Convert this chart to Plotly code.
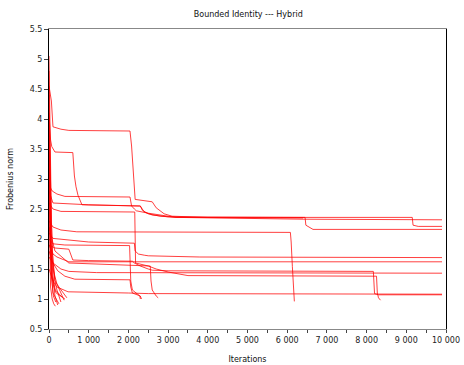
import plotly.graph_objects as go

# ---- data (iterations, Frobenius norm) ----
run01_x = [0, 60, 100, 300, 500, 2040, 2080, 2130, 2170, 2600, 2700, 2900, 3100, 4000, 9150, 9170, 9300, 9900]
run01_y = [4.55, 4.3, 3.87, 3.83, 3.81, 3.80, 3.55, 2.98, 2.66, 2.62, 2.52, 2.42, 2.38, 2.36, 2.36, 2.23, 2.21, 2.21]

run02_x = [0, 40, 70, 150, 600, 640, 680, 730, 830, 2300, 2400, 2600, 3000, 6450, 6470, 6650, 9900]
run02_y = [4.1, 3.65, 3.54, 3.45, 3.44, 3.05, 2.87, 2.73, 2.57, 2.55, 2.45, 2.40, 2.37, 2.36, 2.23, 2.16, 2.16]

run03_x = [0, 80, 200, 400, 2040, 2080, 2150, 2200, 2500, 2800, 3200, 6400, 9900]
run03_y = [2.9, 2.80, 2.75, 2.71, 2.70, 2.55, 2.50, 2.47, 2.43, 2.40, 2.36, 2.33, 2.32]

run04_x = [0, 100, 300, 2160, 2180, 2500, 2700, 3000, 3500, 8250, 8270, 8300, 8350]
run04_y = [2.6, 2.5, 2.46, 2.45, 1.60, 1.55, 1.50, 1.45, 1.39, 1.38, 1.10, 1.02, 0.98]

run05_x = [0, 100, 300, 700, 6080, 6100, 6130, 6150, 6180]
run05_y = [2.3, 2.2, 2.15, 2.12, 2.11, 1.95, 1.54, 1.2, 0.96]

run06_x = [0, 100, 1000, 2150, 2170, 2250, 2400, 2500, 3800, 9900]
run06_y = [2.1, 2.01, 1.95, 1.93, 1.80, 1.75, 1.73, 1.72, 1.70, 1.69]

run07_x = [0, 100, 400, 2030, 2060, 2100, 2290, 2300]
run07_y = [2.0, 1.92, 1.90, 1.89, 1.3, 1.15, 1.05, 1.0]

run08_x = [0, 100, 200, 500, 9900]
run08_y = [1.9, 1.75, 1.7, 1.62, 1.62]

run09_x = [0, 150, 500, 600, 1000, 2100, 2150, 2300, 2500, 2600, 3000, 8170, 8200, 8300, 9900]
run09_y = [1.9, 1.85, 1.83, 1.65, 1.64, 1.63, 1.6, 1.55, 1.5, 1.48, 1.47, 1.46, 1.09, 1.07, 1.07]

run10_x = [0, 100, 300, 500, 1200, 9900]
run10_y = [1.7, 1.6, 1.5, 1.46, 1.44, 1.43]

run11_x = [0, 100, 220, 400, 650, 2040, 2060, 2100, 2300, 2330]
run11_y = [1.8, 1.6, 1.47, 1.38, 1.33, 1.32, 1.2, 1.1, 1.05, 1.0]

run12_x = [0, 100, 200, 480, 2000, 2500, 9900]
run12_y = [1.5, 1.3, 1.2, 1.12, 1.10, 1.09, 1.08]

run13_x = [0, 100, 1000, 2300, 2350, 2500, 2800, 3200, 6400]
run13_y = [2.8, 2.60, 2.57, 2.55, 2.48, 2.42, 2.38, 2.36, 2.35]

run14_x = [0, 150, 500, 2550, 2570, 2600, 2700, 2750]
run14_y = [2.2, 1.8, 1.6, 1.55, 1.3, 1.15, 1.05, 1.02]

run15_x = [0, 30, 60, 100, 150, 250, 350, 450]
run15_y = [5.05, 3.2, 2.3, 1.6, 1.3, 1.2, 1.1, 1.02]

run16_x = [0, 40, 80, 150, 200, 300]
run16_y = [4.05, 2.6, 1.8, 1.3, 1.15, 0.95]

run17_x = [0, 20, 50, 100, 200, 250]
run17_y = [3.65, 2.4, 1.5, 1.1, 0.98, 0.92]

run18_x = [0, 30, 70, 120, 180, 280, 400]
run18_y = [3.0, 2.0, 1.4, 1.2, 1.1, 1.05, 1.0]

run19_x = [0, 20, 40, 80, 120, 160]
run19_y = [2.5, 1.6, 1.2, 1.0, 0.92, 0.88]

run20_x = [0, 50, 100, 200, 300, 380]
run20_y = [3.4, 1.9, 1.5, 1.25, 1.1, 0.98]

run21_x = [0, 25, 60, 150, 220]
run21_y = [4.4, 2.9, 1.7, 1.05, 0.9]

run22_x = [0, 10, 30, 60, 110, 170]
run22_y = [4.8, 3.6, 2.2, 1.4, 1.05, 0.95]

run23_x = [0, 15, 40, 90, 160, 260, 330]
run23_y = [3.9, 2.8, 1.9, 1.35, 1.15, 1.08, 1.03]

runs = [
    (run01_x, run01_y), (run02_x, run02_y), (run03_x, run03_y), (run04_x, run04_y),
    (run05_x, run05_y), (run06_x, run06_y), (run07_x, run07_y), (run08_x, run08_y),
    (run09_x, run09_y), (run10_x, run10_y), (run11_x, run11_y), (run12_x, run12_y),
    (run13_x, run13_y), (run14_x, run14_y), (run15_x, run15_y), (run16_x, run16_y),
    (run17_x, run17_y), (run18_x, run18_y), (run19_x, run19_y), (run20_x, run20_y),
    (run21_x, run21_y), (run22_x, run22_y), (run23_x, run23_y),
]

x_ticks = [0, 1000, 2000, 3000, 4000, 5000, 6000, 7000, 8000, 9000, 10000]
x_labels = ["0", "1 000", "2 000", "3 000", "4 000", "5 000", "6 000", "7 000", "8 000", "9 000", "10 000"]
y_ticks = [0.5, 1, 1.5, 2, 2.5, 3, 3.5, 4, 4.5, 5, 5.5]
y_labels = ["0.5", "1", "1.5", "2", "2.5", "3", "3.5", "4", "4.5", "5", "5.5"]

fig = go.Figure()
for xs, ys in runs:
    fig.add_trace(go.Scatter(x=xs, y=ys, mode="lines",
                             line=dict(color="rgba(255,0,0,0.75)", width=1),
                             showlegend=False, hoverinfo="skip"))

font = "DejaVu Sans"
fig.update_layout(
    width=464, height=365,
    margin=dict(l=49, r=18, t=29, b=36),
    paper_bgcolor="white", plot_bgcolor="white",
    font=dict(family=font, size=8, color="#222"),
    title=dict(text="Bounded Identity --- Hybrid", x=0.535, xanchor="center",
               y=1 - 14 / 365, yanchor="middle", font=dict(family=font, size=8, color="#111")),
    showlegend=False,
)
fig.update_xaxes(
    range=[0, 10000], tickvals=x_ticks, ticktext=x_labels, automargin=False,
    showline=True, linecolor="#888", linewidth=1, mirror=True,
    ticks="outside", ticklen=3, tickcolor="#444", showgrid=False, zeroline=False,
    minor=dict(ticks="outside", ticklen=3, dtick=500, tick0=0, tickcolor="#444", showgrid=False),
    title=dict(text="Iterations", font=dict(family=font, size=8, color="#111"), standoff=12),
)
fig.update_yaxes(
    range=[0.5, 5.5], tickvals=y_ticks, ticktext=y_labels, automargin=False,
    showline=True, linecolor="#000", linewidth=1, mirror=True,
    ticks="outside", ticklen=4, tickcolor="#444", showgrid=False, zeroline=False,
    title=dict(text="Frobenius norm", font=dict(family=font, size=8, color="#111"), standoff=14),
)
fig.write_html("out.html")
